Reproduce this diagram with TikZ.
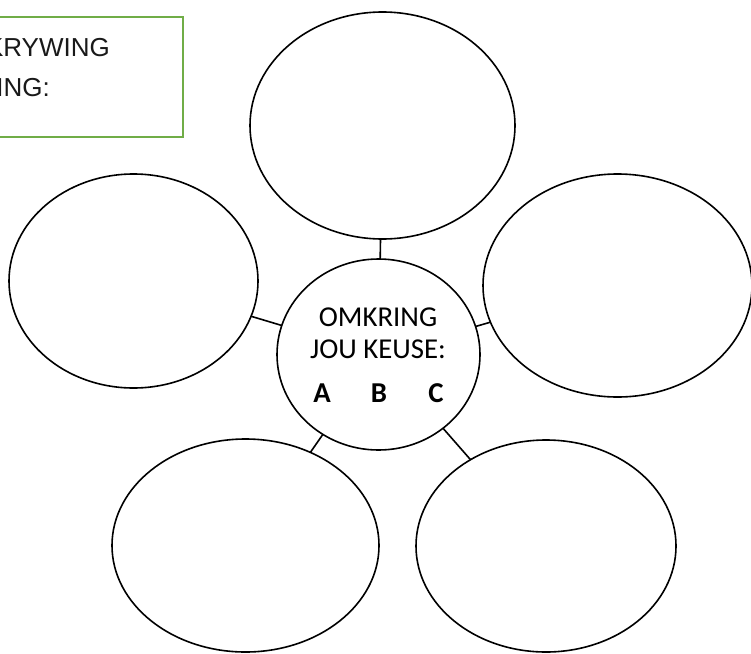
\documentclass[tikz,border=0pt]{standalone}
\usepackage{fontspec}
\setmainfont{Carlito}
\newfontfamily\boxfont{Liberation Sans}
\usetikzlibrary{shapes.geometric}
\definecolor{boxgreen}{HTML}{70AD47}
\begin{document}
\begin{tikzpicture}[x=1pt,y=-1pt,
  bubble/.style={ellipse, draw, line width=1.6pt, inner sep=0pt, outer sep=0pt},
  link/.style={line width=1.6pt},
  boxtext/.style={inner sep=0pt, font=\boxfont\fontsize{26}{30}\selectfont, text=black!90},
  midtext/.style={inner sep=0pt, font=\fontsize{28.8}{34}\selectfont},
  choice/.style={inner sep=0pt, font=\bfseries\fontsize{28.8}{34}\selectfont}]
\useasboundingbox (0,0) rectangle (751,653);
% info box
\draw[boxgreen, line width=1.6pt] (-5,17) rectangle (183,137);
\node[boxtext, anchor=base east] (t1) at (110,56) {KRYWING};
\node[boxtext, anchor=base east] (t2) at (50,96) {ING:};
% bubbles
\node[bubble, minimum width=203pt, minimum height=191pt] (c) at (378.5,354.5) {};
\node[bubble, minimum width=265pt, minimum height=227pt] (top) at (382.5,125.5) {};
\node[bubble, minimum width=249pt, minimum height=214pt] (left) at (133.5,281) {};
\node[bubble, minimum width=269pt, minimum height=223pt] (right) at (617.5,285.5) {};
\node[bubble, minimum width=267pt, minimum height=213pt] (bl) at (245.5,545.5) {};
\node[bubble, minimum width=260pt, minimum height=212pt] (br) at (546,546) {};
% connectors
\draw[link] (top) -- (c);
\draw[link] (left) -- (c);
\draw[link] (right) -- (c);
\draw[link] (bl) -- (c);
\draw[link] (br) -- (c);
% center text
\node[midtext, anchor=base] (l1) at (378,326) {OMKRING};
\node[midtext, anchor=base] (l2) at (378,358) {JOU KEUSE:};
\node[choice, anchor=base] (ca) at (322,402) {A};
\node[choice, anchor=base] (cb) at (379,402) {B};
\node[choice, anchor=base] (cc) at (436,402) {C};
\end{tikzpicture}
\end{document}
